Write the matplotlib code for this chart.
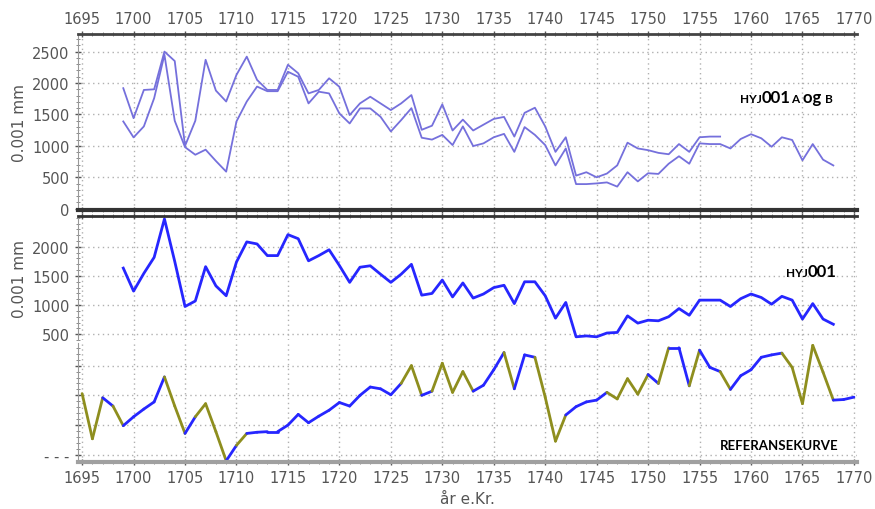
import numpy as np
import matplotlib.pyplot as plt
from matplotlib.ticker import MultipleLocator, FixedLocator
from matplotlib.transforms import IdentityTransform

# HYJ001 A og B (to radier), 0.001 mm
aar_a = np.arange(1699, 1758)
serie_a = [1918, 1441, 1890, 1900, 2500, 2350, 1000, 1400, 2370, 1880,
           1706, 2130, 2420, 2050, 1890, 1890, 2290, 2155, 1835, 1890,
           2075, 1940, 1490, 1676, 1782, 1676, 1570, 1676, 1809, 1256,
           1321, 1661, 1245, 1418, 1245, 1337, 1429, 1461, 1148, 1526,
           1607, 1310, 905, 1137, 527, 581, 500, 560, 690, 1051,
           959, 932, 889, 867, 1029, 905, 1137, 1148, 1148]
aar_b = np.arange(1699, 1769)
serie_b = [1389, 1135, 1310, 1759, 2450, 1400, 980, 859, 940, 760,
           590, 1389, 1706, 1944, 1870, 1870, 2180, 2100, 1676, 1862,
           1835, 1516, 1357, 1596, 1596, 1463, 1230, 1410, 1600, 1130,
           1100, 1175, 1013, 1310, 997, 1040, 1137, 1191, 905, 1299,
           1175, 1013, 689, 959, 392, 392, 403, 419, 352, 581,
           435, 565, 554, 716, 835, 716, 1040, 1029, 1029, 959,
           1110, 1186, 1121, 986, 1137, 1094, 770, 1029, 781, 689]

# middelkurve HYJ001
aar_m = np.arange(1699, 1769)
hyj001 = [1635, 1240, 1545, 1820, 2480, 1750, 975, 1070, 1660, 1330,
          1160, 1740, 2085, 2050, 1850, 1850, 2210, 2140, 1760, 1850,
          1950, 1680, 1390, 1650, 1675, 1530, 1390, 1530, 1700, 1170,
          1200, 1430, 1140, 1380, 1120, 1190, 1300, 1340, 1025, 1400,
          1400, 1160, 775, 1045, 455, 470, 455, 520, 530, 815,
          690, 740, 730, 800, 940, 825, 1085, 1085, 1085, 975,
          1110, 1190, 1130, 1015, 1150, 1085, 760, 1025, 760, 670]

# referansekurve (indeks, vilkårlig enhet)
aar_r = np.arange(1695, 1771)
referanse = [103, 27, 96, 82, 49, 64, 77, 89, 131, 82,
             36, 64, 86, 39, -10, 16, 36, 38, 39, 39,
             50, 68, 54, 65, 75, 88, 82, 100, 114, 111,
             101, 120, 150, 100, 107, 154, 105, 140, 107, 117,
             143, 172, 111, 168, 164, 97, 23, 67, 81, 89,
             92, 105, 94, 128, 102, 135, 120, 180, 180, 116,
             176, 147, 140, 110, 133, 143, 164, 168, 171, 147,
             86, 184, 139, 92, 93, 97]
# farge per segment: b = blå, o = oliven
segmentfarge = ("oobobbbboo" + "booobo" + "b" * 15 + "ooboooobbb" + "obbooo"
                + "bbbb" + "oooo" + "bobbobbo" + "bbbbb" + "ooooo" + "bb")

aar_ticks = list(range(1695, 1771, 5))

GRAA = '#555555'
LILLA = '#7570dc'
BLAA = '#2626ff'
OLIVEN = '#8e8e1e'

W, H = 875, 510
fig = plt.figure(figsize=(W / 100, H / 100), dpi=100)
plt.rcParams['font.family'] = 'DejaVu Sans'


def akse(topp, bunn, venstre=78, hoyre=857):
    return fig.add_axes([venstre / W, 1 - bunn / H, (hoyre - venstre) / W, (bunn - topp) / H])


def stil(ax):
    ax.set_xlim(1694.6, 1770.3)
    ax.xaxis.set_major_locator(FixedLocator(aar_ticks))
    ax.xaxis.set_minor_locator(MultipleLocator(1))
    ax.grid(True, which='major', color='#b0b0b0', linestyle=(0, (1, 2.5)), linewidth=1)
    ax.spines['right'].set_visible(False)
    ax.spines['left'].set_color('#999999')
    ax.tick_params(colors=GRAA, labelsize=10.5, direction='inout', length=5, width=1)
    ax.tick_params(which='minor', direction='inout', length=3, color='#777777')
    ax.set_axisbelow(True)


# topp: A og B
ax1 = akse(35, 211)
stil(ax1)
ax1.plot(aar_a, serie_a, color=LILLA, lw=1.3)
ax1.plot(aar_b, serie_b, color=LILLA, lw=1.3)
ax1.set_ylim(-20, 2780)
ax1.yaxis.set_major_locator(MultipleLocator(500))
ax1.yaxis.set_minor_locator(MultipleLocator(100))
ax1.xaxis.tick_top()
ax1.xaxis.set_ticks_position('both')
ax1.tick_params(axis='x', labeltop=True, labelbottom=False)
ax1.spines['top'].set_linewidth(2)
ax1.spines['top'].set_color('#444444')
ax1.spines['bottom'].set_linewidth(3)
ax1.spines['bottom'].set_color('#333333')
ax1.set_ylabel('0.001 mm', color=GRAA, fontsize=11, labelpad=4)

# midten: HYJ001
ax2 = akse(217, 341)
stil(ax2)
ax2.plot(aar_m, hyj001, color=BLAA, lw=2)
ax2.set_ylim(400, 2530)
ax2.yaxis.set_major_locator(FixedLocator([500, 1000, 1500, 2000]))
ax2.yaxis.set_minor_locator(MultipleLocator(100))
ax2.spines['bottom'].set_visible(False)
ax2.spines['top'].set_linewidth(2)
ax2.spines['top'].set_color('#333333')
ax2.tick_params(axis='x', which='both', bottom=False, labelbottom=False, top=True)
ax2.set_ylabel('0.001 mm', color=GRAA, fontsize=11, labelpad=4)

# bunn: referansekurve
ax3 = akse(344, 463)
stil(ax3)
for i in range(len(segmentfarge)):
    f = BLAA if segmentfarge[i] == 'b' else OLIVEN
    ax3.plot(aar_r[i:i + 2], referanse[i:i + 2], color=f, lw=2, solid_capstyle='round')
ax3.set_ylim(-12, 188)
ax3.yaxis.set_major_locator(FixedLocator([0, 50, 100, 150]))
ax3.yaxis.set_minor_locator(MultipleLocator(10))
ax3.set_yticklabels(['- - -', '', '', ''])
ax3.spines['top'].set_visible(False)
ax3.spines['bottom'].set_linewidth(3)
ax3.spines['bottom'].set_color('#a0a0a0')
ax3.set_xlabel('år e.Kr.', color=GRAA, fontsize=11, labelpad=4)


# tekst med små kapitéler
def smaa_kapiteler(x, y, biter):
    r = fig.canvas.get_renderer()
    for tekst, st in biter:
        t = fig.text(x, H - y, tekst, fontsize=st, fontweight='bold', family='Lato',
                     transform=IdentityTransform(), va='baseline', ha='left')
        x += t.get_window_extent(renderer=r).width


smaa_kapiteler(740, 103, [('HYJ', 8.5), ('001', 12), ('A', 8.5), (' og ', 12), ('B', 8.5)])
smaa_kapiteler(786, 277, [('HYJ', 8.5), ('001', 12)])
fig.text(720 / W, 1 - 450 / H, 'REFERANSEKURVE', fontsize=9.5, fontweight='bold', family='Lato')

fig.savefig('out.png', dpi=100)
